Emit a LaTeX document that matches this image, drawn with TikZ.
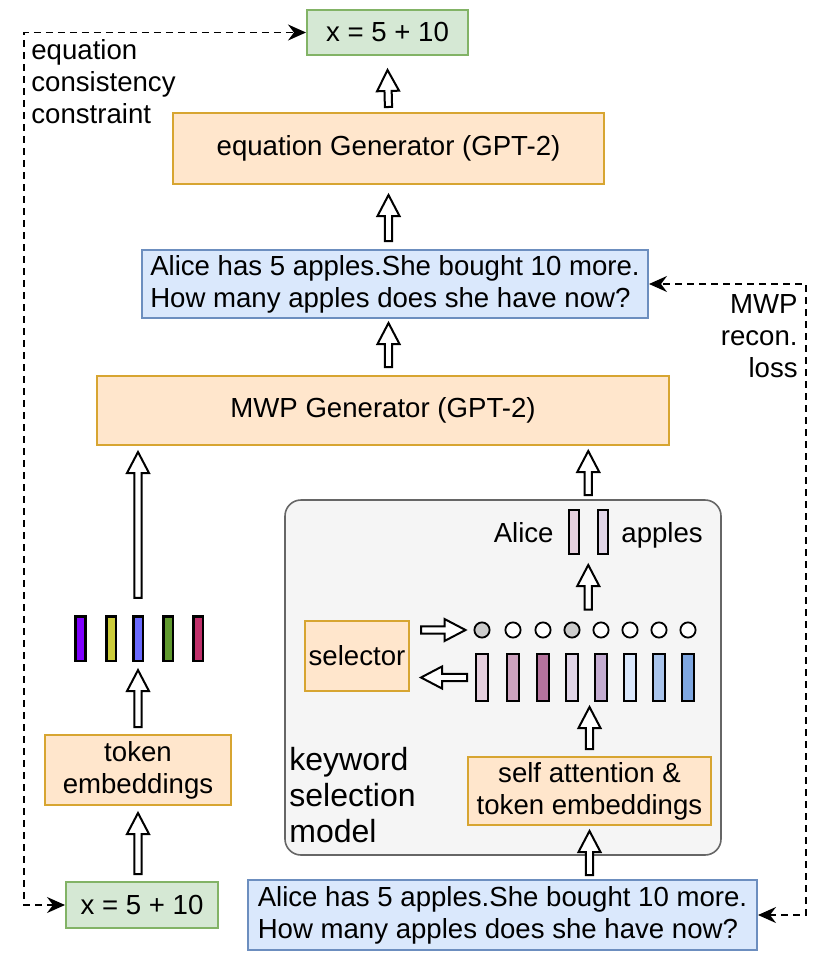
\documentclass[tikz,border=0pt]{standalone}
\usepackage{fontspec}
\setmainfont{Liberation Sans}
\usetikzlibrary{calc,arrows.meta}

\definecolor{eqfill}{HTML}{D5E8D4}
\definecolor{eqline}{HTML}{82B366}
\definecolor{genfill}{HTML}{FFE6CC}
\definecolor{genline}{HTML}{D7A531}
\definecolor{mwpfill}{HTML}{DAE8FC}
\definecolor{mwpline}{HTML}{6C8EBF}
\definecolor{selfill}{HTML}{F5F5F5}
\definecolor{selline}{HTML}{666666}
\definecolor{tokA}{HTML}{7F00FF}
\definecolor{tokB}{HTML}{CCCC3A}
\definecolor{tokC}{HTML}{6A6AFF}
\definecolor{tokD}{HTML}{60992E}
\definecolor{tokE}{HTML}{C0306A}
\definecolor{kwA}{HTML}{E6D0DE}
\definecolor{kwB}{HTML}{CDA2BE}
\definecolor{kwC}{HTML}{B5739D}
\definecolor{kwD}{HTML}{E1D5E7}
\definecolor{kwE}{HTML}{C3ABD0}
\definecolor{kwF}{HTML}{DAE8FC}
\definecolor{kwG}{HTML}{A9C4EB}
\definecolor{kwH}{HTML}{7EA6E0}

\tikzset{
  box/.style={draw, line width=1pt, inner sep=0pt},
  eqbox/.style={box, fill=eqfill, draw=eqline},
  genbox/.style={box, fill=genfill, draw=genline, align=center},
  mwpbox/.style={box, fill=mwpfill, draw=mwpline, align=left},
  selbox/.style={draw=selline, fill=selfill, line width=0.8pt, rounded corners=8pt, inner sep=0pt},
  tokbar/.style={draw, line width=1.3pt, minimum width=4.8pt, minimum height=22.3pt, inner sep=0pt},
  kwbar/.style={draw, line width=1pt, minimum width=6pt, minimum height=23.5pt, inner sep=0pt},
  dotoff/.style={circle, draw, line width=0.9pt, fill=white, minimum size=7.6pt, inner sep=0pt},
  dotsel/.style={dotoff, fill=black!20},
  lbl/.style={inner sep=0pt},
  hollow/.style={draw, fill=white, line width=1pt, line join=miter},
  loss/.style={draw, line width=0.9pt, dash pattern=on 3.5pt off 2.5pt,
    arrows={Stealth[length=9pt,width=8pt,inset=3pt]-Stealth[length=9pt,width=8pt,inset=3pt]}}
}

\newcommand\fatarrow[2]{%
  \coordinate (fa-s) at (#1);
  \coordinate (fa-t) at (#2);
  \coordinate (fa-h) at ($(fa-t)!10.5pt!(fa-s)$);
  \draw[hollow] ($(fa-s)!1.8pt!90:(fa-t)$) -- ($(fa-h)!1.8pt!90:(fa-t)$)
    -- ($(fa-h)!5.5pt!90:(fa-t)$) -- (fa-t) -- ($(fa-h)!5.5pt!-90:(fa-t)$)
    -- ($(fa-h)!1.8pt!-90:(fa-t)$) -- ($(fa-s)!1.8pt!-90:(fa-t)$) -- cycle;}

\begin{document}
\begin{tikzpicture}[x=0.5pt, y=-0.5pt, font=\fontsize{13.8}{16}\selectfont]
\useasboundingbox (0,0) rectangle (834,974);

\node[selbox, minimum width=218pt, minimum height=177.5pt] (kwsel) at (503,677.5) {};

\node[eqbox, minimum width=80.5pt, minimum height=22.5pt] (eqtop) at (387.5,32.5) {x = 5 + 10};
\node[genbox, minimum width=215.5pt, minimum height=35.5pt] (eqgen) at (388.5,148.5) {equation Generator (GPT-2)};
\node[mwpbox, minimum width=253pt, minimum height=34pt] (mwp1) at (395,284)
  {Alice has 5 apples.She bought 10 more.\\How many apples does she have now?};
\node[genbox, minimum width=286pt, minimum height=34.5pt] (mwpgen) at (383,410.5) {MWP Generator (GPT-2)};
\node[genbox, minimum width=93pt, minimum height=35pt] (tokemb) at (138,770) {token\\embeddings};
\node[eqbox, minimum width=76pt, minimum height=23pt] (eqbot) at (142,905) {x = 5 + 10};
\node[mwpbox, minimum width=254.5pt, minimum height=35pt] (mwp2) at (502.5,915)
  {Alice has 5 apples.She bought 10 more.\\How many apples does she have now?};
\node[genbox, minimum width=121.5pt, minimum height=34pt] (selfatt) at (589.5,791) {self attention \&\\token embeddings};
\node[genbox, minimum width=52pt, minimum height=35pt] (selector) at (357,656) {selector};

\node[lbl, anchor=west, align=left] (eqlbl) at (31,82) {equation\\consistency\\constraint};
\node[lbl, anchor=east, align=right] (mwplbl) at (798,336) {MWP\\recon.\\loss};
\node[lbl, anchor=west, align=left, font=\fontsize{16}{18}\selectfont] (kwlbl) at (289,795) {keyword\\selection\\model};

\foreach \x/\col [count=\i] in {80.5/tokA,111/tokB,138/tokC,168/tokD,198/tokE}
  \node[tokbar, fill=\col] (tok\i) at (\x,638.5) {};

\foreach \x/\col/\dot [count=\i] in {482/kwA/dotsel,513/kwB/dotoff,543/kwC/dotoff,572/kwD/dotsel,
    601/kwE/dotoff,630/kwF/dotoff,659/kwG/dotoff,688/kwH/dotoff} {
  \node[kwbar, fill=\col] (kw\i) at (\x,677.5) {};
  \node[\dot] (dot\i) at (\x,630) {};
}

\node[kwbar, fill=kwA, minimum width=5pt, minimum height=22pt] (out1) at (574,532) {};
\node[kwbar, fill=kwD, minimum width=5pt, minimum height=22pt] (out2) at (602.5,532) {};
\coordinate (outmid) at ($(out1.north)!0.5!(out2.north)$);
\node[lbl, anchor=base east] (alice) at (554,542) {Alice};
\node[lbl, anchor=base west] (apples) at (621,542) {apples};

\fatarrow{[yshift=2.5pt]eqgen.north}{[yshift=-7pt]eqtop.south}
\fatarrow{[yshift=4pt]eqgen.south |- mwp1.north}{[yshift=-5pt]eqgen.south}
\fatarrow{[yshift=4pt]eqgen.south |- mwpgen.north}{[yshift=-2pt]eqgen.south |- mwp1.south}
\fatarrow{[yshift=8.5pt]tok3.north}{[yshift=-3pt]tok3.north |- mwpgen.south}
\fatarrow{[yshift=3.5pt]tokemb.north}{[yshift=-4pt]tok3.south}
\fatarrow{[yshift=3.5pt]tokemb.south |- eqbot.north}{[yshift=-3.5pt]tokemb.south}
\fatarrow{[yshift=7pt]outmid}{[yshift=-2.5pt]outmid |- mwpgen.south}
\fatarrow{[yshift=6pt]outmid |- dot5.north}{[yshift=-5pt]outmid |- out1.south}
\fatarrow{[yshift=3.5pt]selfatt.north}{[yshift=-2.5pt]selfatt.north |- kw5.south}
\fatarrow{[yshift=2pt]selfatt.south |- mwp2.north}{[yshift=-2.5pt]selfatt.south}
\fatarrow{[xshift=5.5pt]selector.east |- dot1}{[xshift=-4pt]dot1.west}
\fatarrow{[xshift=-4pt]kw1.west}{[xshift=5.5pt]selector.east |- kw1}

\draw[loss] (eqbot.west) -- ++(-20.5pt,0) |- (eqtop.west);
\draw[loss] (mwp2.east) -- ++(24pt,0) |- (mwp1.east);
\end{tikzpicture}
\end{document}
